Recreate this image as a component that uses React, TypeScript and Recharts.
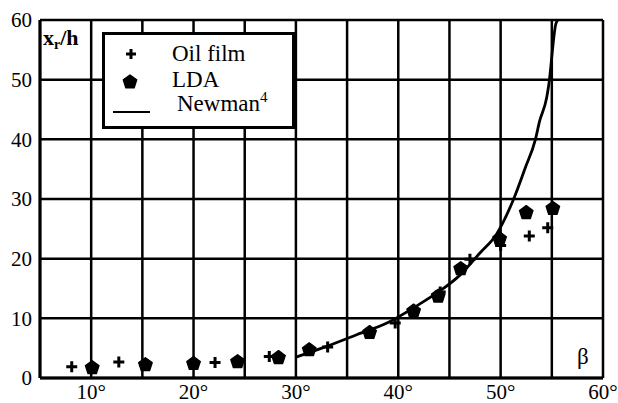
import React from 'react';
import { ComposedChart, Scatter, Line, XAxis, YAxis, CartesianGrid, Legend, Label } from 'recharts';

const oilBeta = [8.1, 12.7, 22.1, 27.4, 33.1, 39.7, 44.1, 47.0, 50.0, 52.8, 54.6];
const oilXr = [1.9, 2.7, 2.6, 3.6, 5.2, 9.2, 14.4, 19.9, 22.2, 23.8, 25.2];
const ldaBeta = [10.1, 15.3, 20.0, 24.3, 28.3, 31.3, 37.2, 41.5, 43.9, 46.1, 49.9, 52.5, 55.1];
const ldaXr = [1.7, 2.2, 2.4, 2.7, 3.4, 4.7, 7.6, 11.2, 13.7, 18.3, 23.3, 27.7, 28.4];
const newmanBeta = [30, 33, 36, 39, 42, 44, 46, 48, 49.6, 51.2, 52.4, 53.4, 53.8, 54.5, 54.7, 55.4, 55.6];
const newmanXr = [3.5, 5.3, 7.3, 9.3, 12.3, 14.5, 17.2, 21, 24.1, 29.7, 35.2, 40, 43, 47, 49.1, 59.4, 60];
const xTicks = [5, 10, 15, 20, 25, 30, 35, 40, 45, 50, 55, 60];
const yTicks = [0, 10, 20, 30, 40, 50, 60];

const oilData = oilBeta.map((b, i) => ({ beta: b, xr: oilXr[i] }));
const ldaData = ldaBeta.map((b, i) => ({ beta: b, xr: ldaXr[i] }));
const newmanData = newmanBeta.map((b, i) => ({ beta: b, xr: newmanXr[i] }));

const FONT = 'Liberation Serif, DejaVu Serif, serif';
const txt = { fontFamily: FONT };

const pentagon = (cx: number, cy: number, r: number) => {
  const pts: string[] = [];
  for (let k = 0; k < 5; k++) {
    const a = -Math.PI / 2 + (k * 2 * Math.PI) / 5;
    pts.push(`${cx + r * Math.cos(a)},${cy + r * Math.sin(a)}`);
  }
  return pts.join(' ');
};

const PlusShape = (props: any) => {
  const { cx, cy } = props;
  return (
    <path
      d={`M${cx - 5.5},${cy} H${cx + 5.5} M${cx},${cy - 5.5} V${cy + 5.5}`}
      stroke="#000"
      strokeWidth={3}
      fill="none"
    />
  );
};

const PentShape = (props: any) => {
  const { cx, cy } = props;
  return <polygon points={pentagon(cx, cy, 7)} fill="#000" stroke="#000" strokeWidth={1.5} strokeLinejoin="round" />;
};

const LegendBox = () => (
  <svg width={193} height={97} style={{ display: 'block' }}>
    <rect x={1.5} y={1.5} width={190} height={94} fill="#fff" stroke="#000" strokeWidth={3} />
    <path d="M24,22 H34 M29,17 V27" stroke="#000" strokeWidth={3} />
    <text x={70} y={29} style={txt} fontSize={23} fill="#000">Oil film</text>
    <polygon points={pentagon(28, 50, 7)} fill="#000" stroke="#000" strokeWidth={1.5} strokeLinejoin="round" />
    <text x={70} y={55} style={txt} fontSize={23} fill="#000">LDA</text>
    <line x1={11} x2={48} y1={80} y2={80} stroke="#000" strokeWidth={2} />
    <text x={75} y={79} style={txt} fontSize={23} fill="#000">
      Newman
      <tspan fontSize={15} dy={-9}>4</tspan>
    </text>
  </svg>
);

export default function App() {
  return (
    <div style={{ position: 'absolute', left: 0, top: 0, width: 618, height: 403, background: '#fff', fontFamily: FONT }}>
      <ComposedChart
        width={618}
        height={403}
        margin={{ top: 20, right: 15, bottom: 0, left: 0 }}
        style={{ fontFamily: FONT }}
      >
        <CartesianGrid stroke="#000" strokeWidth={2.5} />
        <XAxis
          type="number"
          dataKey="beta"
          domain={[5, 60]}
          ticks={xTicks}
          interval={0}
          height={25}
          tickLine={false}
          tickMargin={0}
          axisLine={{ stroke: '#000', strokeWidth: 3 }}
          tick={{ fill: '#000', fontFamily: FONT, fontSize: 21, style: txt }}
          tickFormatter={(v: number) => (v % 10 === 0 ? `${v}°` : '')}
          allowDataOverflow
        >
          <Label
            content={() => (
              <text x={577} y={364} style={txt} fontSize={23} fill="#000">β</text>
            )}
          />
        </XAxis>
        <YAxis
          type="number"
          dataKey="xr"
          domain={[0, 60]}
          ticks={yTicks}
          interval={0}
          width={40}
          tickLine={false}
          axisLine={{ stroke: '#000', strokeWidth: 3 }}
          tick={{ fill: '#000', fontFamily: FONT, fontSize: 21, style: txt }}
          allowDataOverflow
        >
          <Label
            content={() => (
              <text x={43} y={45} style={txt} fontSize={22} fontWeight="bold" fill="#000">
                x<tspan fontSize={14} dy={4}>r</tspan>
                <tspan dy={-4}>/h</tspan>
              </text>
            )}
          />
        </YAxis>
        <Line
          data={newmanData}
          dataKey="xr"
          type="monotone"
          stroke="#000"
          strokeWidth={2.8}
          dot={false}
          activeDot={false}
          isAnimationActive={false}
          legendType="none"
        />
        <Scatter data={oilData} dataKey="xr" shape={<PlusShape />} isAnimationActive={false} />
        <Scatter data={ldaData} dataKey="xr" shape={<PentShape />} isAnimationActive={false} />
        <Legend
          layout="vertical"
          align="center"
          verticalAlign="middle"
          content={() => <LegendBox />}
          wrapperStyle={{ left: 102, top: 32, width: 193, height: 97 }}
        />
      </ComposedChart>
    </div>
  );
}
